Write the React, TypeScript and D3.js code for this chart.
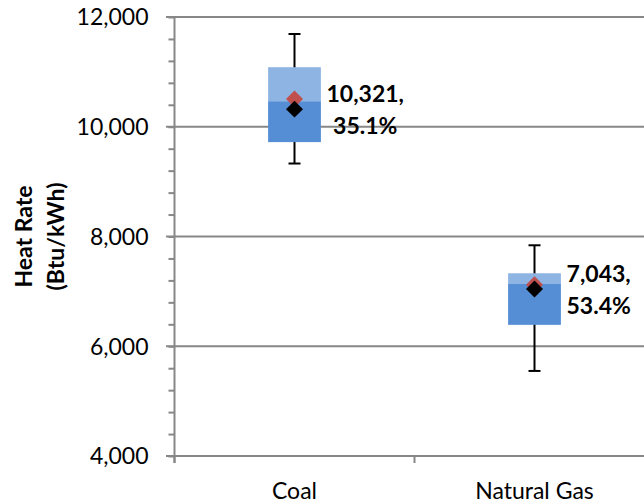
import { useEffect, useRef } from "react";
import * as d3 from "d3";

const WIDTH = 644;
const HEIGHT = 504;

// Values
const categories = ["Coal", "Natural Gas"];
const whiskerHigh = [11690, 7840];
const upperQuartile = [11085, 7330];
const medians = [10465, 7135];
const lowerQuartile = [9720, 6390];
const whiskerLow = [9330, 5550];
const redMarker = [10505, 7120];
const averages = [10321, 7043];
const efficiency = ["35.1%", "53.4%"];
const yTicks = [4000, 6000, 8000, 10000, 12000];

const margin = { top: 17, left: 174.5, bottom: 456 };
const plotWidth = 480;

const FONT = "Lato, 'Open Sans', sans-serif";
const AXIS_GREY = "#878787";

export default function App() {
  const ref = useRef<SVGSVGElement | null>(null);

  useEffect(() => {
    if (!ref.current) return;
    const svg = d3.select(ref.current);
    svg.selectAll("*").remove();

    const x = d3
      .scaleBand<string>()
      .domain(categories)
      .range([margin.left, margin.left + plotWidth]);

    const y = d3.scaleLinear().domain([4000, 12000]).range([margin.bottom, margin.top]);

    const boxW = x.bandwidth() * 0.22;
    const cx = (i: number) => (x(categories[i]) as number) + x.bandwidth() / 2;

    // Gridlines
    svg
      .append("g")
      .selectAll("line")
      .data(yTicks.slice(1))
      .join("line")
      .attr("x1", margin.left)
      .attr("x2", margin.left + plotWidth)
      .attr("y1", (d) => y(d))
      .attr("y2", (d) => y(d))
      .attr("stroke", AXIS_GREY)
      .attr("stroke-width", 2);

    // Y axis with major and minor ticks
    const yAxis = svg.append("g").attr("transform", `translate(${margin.left},0)`);
    yAxis
      .call(
        d3
          .axisLeft(y)
          .tickValues(d3.range(4000, 12001, 400))
          .tickSize(6)
          .tickFormat(() => "")
      )
      .call((g) => g.select(".domain").remove());
    yAxis.selectAll("line").attr("stroke", AXIS_GREY).attr("stroke-width", 2);
    yAxis
      .selectAll("line.major")
      .data(yTicks)
      .join("line")
      .attr("x1", -8.5)
      .attr("x2", 0)
      .attr("y1", (d) => y(d))
      .attr("y2", (d) => y(d))
      .attr("stroke", AXIS_GREY)
      .attr("stroke-width", 2);
    yAxis
      .append("line")
      .attr("y1", margin.top - 1)
      .attr("y2", margin.bottom + 7)
      .attr("stroke", AXIS_GREY)
      .attr("stroke-width", 2);
    yAxis
      .selectAll("text.tick-label")
      .data(yTicks)
      .join("text")
      .attr("x", -26)
      .attr("y", (d) => y(d))
      .attr("dy", "0.36em")
      .attr("text-anchor", "end")
      .attr("font-family", FONT)
      .attr("font-size", 23)
      .attr("fill", "#000")
      .text((d) => d3.format(",")(d));

    // X axis
    const xAxis = svg.append("g");
    xAxis
      .append("line")
      .attr("x1", margin.left - 8.5)
      .attr("x2", margin.left + plotWidth)
      .attr("y1", margin.bottom)
      .attr("y2", margin.bottom)
      .attr("stroke", AXIS_GREY)
      .attr("stroke-width", 2);
    xAxis
      .selectAll("line.tick")
      .data([...categories, "end"])
      .join("line")
      .attr("x1", (d) => (d === "end" ? margin.left + plotWidth : (x(d) as number)))
      .attr("x2", (d) => (d === "end" ? margin.left + plotWidth : (x(d) as number)))
      .attr("y1", margin.bottom)
      .attr("y2", margin.bottom + 7)
      .attr("stroke", AXIS_GREY)
      .attr("stroke-width", 2);
    xAxis
      .selectAll("text")
      .data(categories)
      .join("text")
      .attr("x", (_, i) => cx(i))
      .attr("y", 499)
      .attr("text-anchor", "middle")
      .attr("font-family", FONT)
      .attr("font-size", 23)
      .attr("fill", "#000")
      .text((d) => d);

    // Axis title
    svg
      .append("text")
      .attr("transform", `translate(32,${(margin.top + margin.bottom) / 2}) rotate(-90)`)
      .attr("text-anchor", "middle")
      .attr("font-family", FONT)
      .attr("font-weight", "bold")
      .attr("font-size", 23)
      .call((t) => {
        t.append("tspan").attr("x", 0).attr("y", 0).text("Heat Rate");
        t.append("tspan").attr("x", 0).attr("y", 32).text("(Btu/kWh)");
      });

    const idx = categories.map((_, i) => i);

    // Whiskers
    const whiskers = svg.append("g").attr("stroke", "#000").attr("stroke-width", 2);
    whiskers
      .selectAll("line.stem")
      .data(idx)
      .join("line")
      .attr("x1", cx)
      .attr("x2", cx)
      .attr("y1", (i) => y(whiskerHigh[i]))
      .attr("y2", (i) => y(whiskerLow[i]));
    [whiskerHigh, whiskerLow].forEach((arr) => {
      whiskers
        .append("g")
        .selectAll("line")
        .data(idx)
        .join("line")
        .attr("x1", (i) => cx(i) - 6)
        .attr("x2", (i) => cx(i) + 6)
        .attr("y1", (i) => y(arr[i]))
        .attr("y2", (i) => y(arr[i]));
    });

    // Boxes: upper half light, lower half dark
    svg
      .append("g")
      .selectAll("rect")
      .data(idx)
      .join("rect")
      .attr("x", (i) => cx(i) - boxW / 2)
      .attr("width", boxW)
      .attr("y", (i) => y(upperQuartile[i]))
      .attr("height", (i) => y(medians[i]) - y(upperQuartile[i]))
      .attr("fill", "#8EB4E3");
    svg
      .append("g")
      .selectAll("rect")
      .data(idx)
      .join("rect")
      .attr("x", (i) => cx(i) - boxW / 2)
      .attr("width", boxW)
      .attr("y", (i) => y(medians[i]))
      .attr("height", (i) => y(lowerQuartile[i]) - y(medians[i]))
      .attr("fill", "#558ED5");

    // Markers
    const diamond = d3.symbol(d3.symbolSquare, 144);
    svg
      .append("g")
      .selectAll("path")
      .data(idx)
      .join("path")
      .attr("d", diamond)
      .attr("transform", (i) => `translate(${cx(i)},${y(redMarker[i])}) rotate(45)`)
      .attr("fill", "#C0504D");
    svg
      .append("g")
      .selectAll("path")
      .data(idx)
      .join("path")
      .attr("d", diamond)
      .attr("transform", (i) => `translate(${cx(i)},${y(averages[i])}) rotate(45)`)
      .attr("fill", "#000");

    // Data labels
    idx.forEach((i) => {
      const g = svg
        .append("g")
        .attr("font-family", FONT)
        .attr("font-weight", "bold")
        .attr("font-size", 23)
        .attr("fill", "#000");
      const lines = [d3.format(",")(averages[i]) + ",", efficiency[i]];
      const texts = lines.map((s, k) =>
        g
          .append("text")
          .attr("y", y(averages[i]) - 7.5 + k * 32)
          .attr("text-anchor", "middle")
          .text(s)
      );
      const w = Math.max(...texts.map((t) => (t.node() as SVGTextElement).getComputedTextLength()));
      texts.forEach((t) => t.attr("x", cx(i) + 32 + w / 2));
    });
  }, []);

  return (
    <svg
      ref={ref}
      width={WIDTH}
      height={HEIGHT}
      style={{ position: "absolute", left: 0, top: 0, background: "#fff" }}
    />
  );
}
